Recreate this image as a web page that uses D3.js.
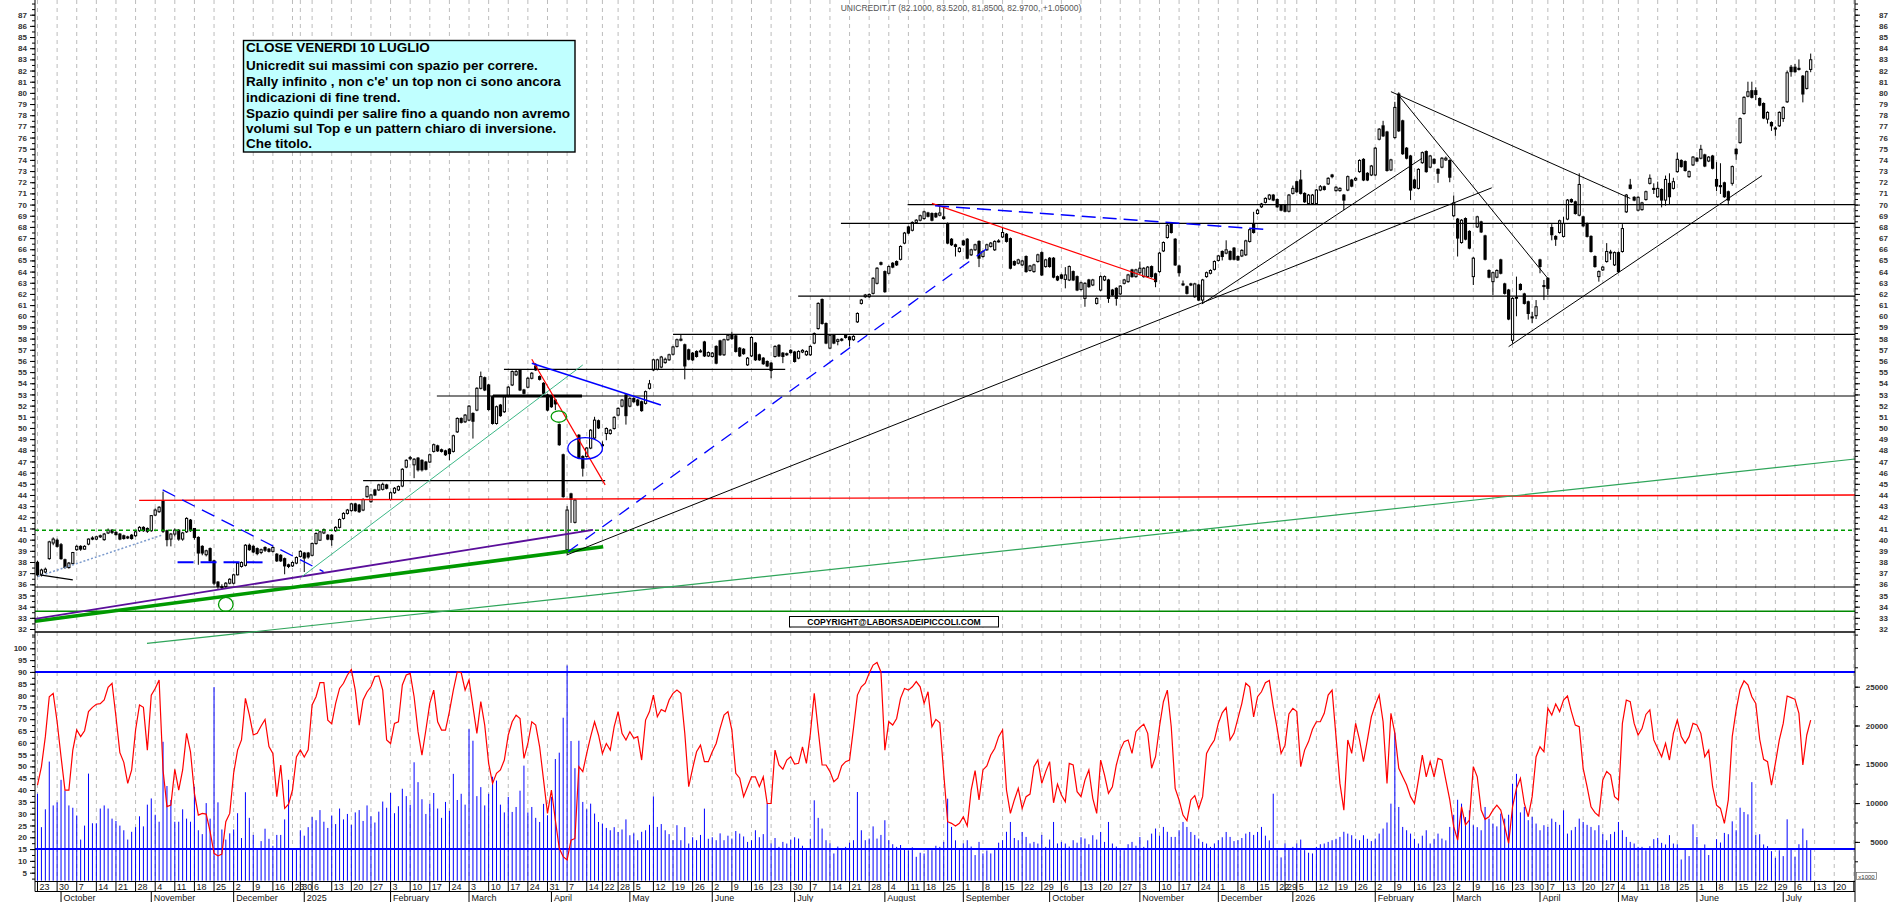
<!DOCTYPE html>
<html><head><meta charset="utf-8">
<script src="https://cdn.jsdelivr.net/npm/d3@7/dist/d3.min.js"></script>
<style>body{margin:0;background:#fff}svg{display:block}text{font-family:"Liberation Sans",Arial,sans-serif}</style>
</head><body><svg id="c" width="1890" height="902"></svg>
<script>
// ---------------- DATA ----------------
const openP = [
37.97,36.9,37.1,38.3,39.7,39.95,39.55,38.2,37.5,37.85,
39.1,39.4,39.15,39.6,40.15,40.05,40.25,40.0,40.6,40.85,
40.65,40.5,40.35,40.25,40.4,40.35,40.8,41.1,41.0,40.8,
42.2,42.5,43.45,40.8,40.05,40.5,40.85,40.05,40.7,41.75,
41.0,40.2,39.4,38.65,39.2,38.1,36.2,35.8,35.8,36.1,
36.1,36.85,37.6,37.7,39.5,39.4,39.2,38.85,39.3,39.15,
38.95,38.7,38.6,38.3,37.75,37.65,37.9,38.5,38.8,38.8,
38.6,39.65,39.95,40.6,40.4,40.4,40.8,41.1,41.9,42.35,
42.6,43.2,43.1,42.65,43.85,43.4,44.45,44.45,44.5,44.9,
43.6,44.2,44.45,44.8,46.5,47.25,46.7,47.3,47.1,46.95,
46.95,47.9,48.4,48.05,47.95,48.1,47.9,49.65,50.85,50.55,
50.7,51.3,51.6,53.55,54.5,53.85,52.8,50.4,52.05,51.45,
52.85,53.85,54.75,55.15,53.4,53.65,54.45,55.55,54.6,54.0,
52.95,52.8,52.5,50.3,47.6,39.1,44.1,41.55,49.35,47.45,
47.45,48.2,49.1,50.65,48.5,49.5,49.5,49.95,51.15,51.95,
52.95,51.95,52.65,52.5,52.35,52.2,53.55,55.2,55.25,55.45,
55.85,56.1,56.6,57.3,57.85,57.45,57.0,56.7,56.85,56.85,
57.7,56.45,56.4,57.3,57.8,56.55,57.9,58.3,58.25,57.15,
57.05,55.65,56.45,57.6,56.55,56.25,55.95,55.8,56.4,57.4,
56.7,56.65,56.95,56.8,56.25,56.8,56.55,56.55,57.6,58.9,
61.5,59.35,57.15,58.3,57.75,57.95,58.3,58.15,57.9,59.5,
61.15,61.75,61.75,62.05,62.95,64.8,64.0,63.85,64.75,64.9,
65.1,66.55,68.0,67.7,68.4,68.6,68.75,69.25,69.2,69.2,
69.05,68.9,68.3,66.9,66.4,65.8,66.75,66.9,65.5,65.95,
66.7,65.35,65.95,66.25,65.95,66.7,67.1,67.35,66.95,64.9,
64.75,64.6,65.35,64.1,64.0,64.9,65.7,64.45,65.2,65.2,
63.55,63.7,63.3,63.25,64.0,63.55,62.4,61.6,63.25,62.8,
61.15,62.35,63.25,63.25,62.35,62.5,62.0,62.95,63.1,64.15,
63.55,63.9,63.55,63.55,64.45,63.8,64.0,65.85,67.05,68.25,
66.9,64.5,62.9,62.65,62.9,61.75,62.8,61.45,63.55,63.85,
64.2,65.0,65.8,65.65,65.8,66.1,65.35,65.4,65.5,66.7,
68.25,69.2,69.8,70.2,70.5,70.85,70.45,69.95,69.95,69.4,
71.0,72.05,72.2,71.0,70.1,70.1,70.1,71.3,71.6,71.85,
72.65,71.25,71.25,70.85,71.3,72.2,72.2,72.95,74.05,72.8,
72.65,72.65,75.85,77.05,76.5,73.1,76.0,79.9,77.5,75.05,
74.35,72.2,71.45,73.75,74.75,73.35,74.05,73.15,73.35,74.0,
73.95,69.0,68.7,66.6,68.75,67.6,63.55,68.0,68.45,67.2,
64.1,63.1,63.5,65.05,62.9,62.35,57.85,61.7,62.85,62.0,
61.3,59.95,60.05,65.05,62.75,63.4,67.95,67.15,67.5,67.15,
68.7,70.45,70.25,69.05,68.9,68.3,67.15,65.35,63.55,64.15,
64.9,65.7,64.6,65.7,65.8,69.35,71.75,70.65,69.5,69.55,
70.45,71.9,71.45,70.7,71.35,70.4,71.9,71.45,72.95,73.95,
73.85,72.5,73.55,74.15,74.15,74.45,73.9,74.35,72.25,71.7,
71.95,71.15,71.9,74.95,75.55,78.15,79.7,80.2,80.2,79.5,
79.05,77.65,77.35,76.85,77.05,77.7,79.2,82.3,82.3,82.2,
81.5,80.4,82.1];
const highP = [
38.1,37.4,37.5,39.9,40.2,40.1,39.7,38.3,38.0,38.9,
39.5,39.5,39.5,40.1,40.3,40.35,40.45,40.6,41.0,40.95,
40.75,40.6,40.45,40.35,40.5,40.8,41.2,41.2,41.1,42.2,
42.8,43.0,44.3,40.9,40.6,41.0,40.95,40.7,42.0,41.85,
41.0,40.3,39.5,39.1,39.3,38.2,36.3,36.0,36.2,36.55,
36.95,38.0,38.05,39.6,39.65,39.5,39.3,39.2,39.4,39.25,
39.4,38.8,38.7,38.4,37.85,38.05,38.5,39.05,38.9,38.9,
39.75,40.65,40.8,41.0,40.5,40.5,41.2,41.9,42.45,42.75,
43.3,43.3,43.2,43.7,44.85,44.1,44.55,45.0,45.1,45.0,
44.3,44.7,44.85,46.4,47.2,47.5,47.3,47.4,47.2,47.05,
47.7,48.6,48.5,48.15,48.05,48.2,49.4,50.95,50.95,51.25,
52.05,51.4,53.65,55.05,54.6,53.95,52.9,52.0,52.15,52.9,
53.75,55.15,55.2,55.25,53.5,54.55,55.0,55.8,54.7,54.1,
53.05,52.9,52.6,50.4,47.7,43.0,44.2,43.65,49.45,47.55,
48.3,49.9,51.0,50.75,48.8,50.05,49.9,51.05,51.85,52.6,
53.05,52.75,52.75,52.6,52.45,53.35,54.3,56.2,56.2,56.45,
56.3,56.65,57.35,58.0,58.4,57.55,57.1,56.8,56.95,57.05,
57.8,56.85,56.8,57.4,57.9,58.0,58.4,58.6,58.35,57.25,
57.15,56.35,58.2,57.7,56.65,56.35,56.05,55.9,57.4,57.5,
56.8,56.75,57.05,56.9,56.95,57.05,56.95,57.4,58.55,61.25,
61.6,59.45,58.4,58.4,58.0,58.05,58.4,58.25,58.3,60.35,
61.55,62.0,62.05,63.5,64.4,64.9,64.1,64.55,64.85,65.0,
66.35,67.55,68.1,68.5,68.7,69.1,69.45,69.35,69.3,69.3,
69.9,69.8,68.4,67.0,66.5,66.2,66.85,67.0,66.05,66.5,
66.8,65.9,66.5,66.65,66.8,66.9,67.9,67.45,67.05,65.0,
65.15,65.05,65.45,64.6,64.7,65.6,65.8,65.15,65.3,65.3,
63.65,63.8,64.4,64.55,64.1,63.65,63.1,63.05,63.35,63.35,
61.7,63.65,63.65,63.35,62.45,62.6,62.8,63.35,63.8,64.25,
64.25,64.9,64.4,64.5,64.55,63.9,65.75,66.7,68.25,68.35,
67.0,64.6,63.2,62.75,63.0,63.0,62.9,63.35,64.0,64.2,
65.0,65.5,65.9,66.8,65.9,66.2,65.45,66.0,66.85,67.85,
69.35,69.6,70.15,70.65,70.95,70.95,70.55,70.05,70.05,70.95,
71.7,72.15,73.1,71.1,70.95,70.95,71.4,71.75,71.7,72.45,
72.75,71.65,71.55,70.95,72.6,72.3,72.45,74.05,74.15,72.9,
73.55,75.15,76.85,77.5,76.6,74.1,79.2,80.05,77.6,75.15,
74.45,72.3,73.25,74.75,74.85,74.45,74.15,73.25,74.25,74.3,
74.05,70.8,68.8,68.7,68.85,67.7,65.3,69.0,68.55,67.3,
64.2,64.0,64.2,65.15,63.0,62.45,61.7,63.55,62.95,62.1,
61.4,60.4,61.45,65.15,63.25,63.5,68.25,67.25,68.65,68.9,
70.5,70.55,70.35,72.8,69.0,68.4,67.25,65.45,64.1,64.5,
66.55,65.95,65.8,65.8,68.25,70.95,72.3,70.75,70.75,70.25,
71.25,72.7,71.9,72.05,71.45,72.6,72.8,72.4,74.65,74.05,
73.95,73.05,74.35,74.25,75.35,74.55,74.35,74.45,73.8,73.7,
72.05,71.25,73.5,75.05,77.8,79.7,81.0,81.0,80.5,79.6,
79.15,78.35,77.45,77.0,78.35,78.8,82.0,82.5,82.6,83.0,
81.6,82.0,83.52];
const lowP = [
36.7,36.7,37.0,38.2,39.5,39.3,38.2,37.4,37.4,37.8,
39.0,39.0,39.1,39.5,39.95,39.95,40.15,39.9,40.5,40.5,
40.35,39.95,40.0,40.05,40.0,40.25,40.7,40.7,40.6,40.7,
42.1,42.4,40.6,39.4,39.4,40.3,39.9,39.9,40.6,40.7,
40.0,37.75,38.6,38.5,38.0,35.95,35.6,35.55,35.65,36.0,
36.0,36.8,37.5,37.6,39.0,38.8,38.6,38.7,38.9,38.85,
38.85,38.0,38.0,36.9,37.45,37.55,37.8,38.4,37.1,38.3,
38.5,39.55,39.9,40.5,39.95,39.45,40.7,41.0,41.8,42.25,
42.5,42.5,42.4,42.55,43.75,43.3,43.9,44.35,44.4,44.5,
43.5,44.1,44.35,44.7,46.4,47.1,45.5,46.1,46.1,46.2,
46.85,47.8,47.85,47.8,47.5,47.1,47.8,49.55,50.4,50.45,
50.6,49.05,51.5,53.45,53.3,51.55,50.3,50.3,51.0,51.35,
52.75,53.75,54.65,53.3,53.0,53.55,54.35,55.1,54.25,53.0,
51.5,51.8,51.6,48.4,43.75,38.7,41.5,41.45,47.2,45.65,
47.35,48.1,49.0,49.9,48.2,48.9,49.4,49.85,51.05,51.85,
50.3,51.85,52.25,51.95,51.45,52.1,53.45,55.1,55.15,55.35,
55.75,56.0,56.5,57.2,57.75,54.35,56.05,56.0,56.3,56.75,
56.35,56.35,56.3,55.7,56.45,56.45,57.8,57.9,56.75,56.35,
56.55,55.55,56.35,56.0,56.0,55.65,55.45,54.45,56.3,56.35,
55.8,56.45,56.65,55.85,56.15,56.7,56.45,56.45,57.5,58.8,
59.25,57.5,57.05,57.5,57.4,57.75,58.0,57.3,57.8,59.4,
61.05,61.65,61.65,61.95,62.85,64.55,62.1,63.75,64.3,64.5,
65.0,66.45,67.35,67.6,68.3,68.5,68.65,68.85,68.5,68.8,
68.95,68.65,66.45,66.3,65.35,65.7,66.3,65.1,65.4,65.85,
64.4,65.25,65.85,66.15,65.85,66.6,67.0,66.6,64.2,64.5,
64.65,64.5,63.9,64.0,63.9,64.8,63.6,64.35,64.35,63.4,
63.15,63.3,62.5,63.15,63.15,62.25,62.3,60.85,62.55,62.7,
61.05,62.25,63.15,61.2,61.8,60.95,61.9,62.85,63.0,63.45,
63.45,63.8,63.45,63.45,63.45,62.6,63.9,65.75,66.95,67.4,
64.5,63.55,62.7,61.95,62.7,61.65,61.35,61.15,63.45,63.75,
64.1,64.9,65.0,65.55,65.0,65.0,64.95,65.3,65.4,66.6,
67.4,69.1,69.7,70.1,70.4,70.3,69.7,69.4,69.3,69.3,
70.9,71.05,70.9,70.15,70.0,70.0,70.0,71.2,71.25,71.75,
72.35,71.15,71.15,69.5,71.2,71.55,72.1,72.85,72.1,72.1,
72.55,72.55,75.75,76.05,72.95,73.0,75.9,76.5,74.45,74.05,
70.4,71.4,71.35,73.65,72.85,73.25,73.6,71.95,73.25,73.9,
72.0,68.9,65.35,66.5,66.8,66.0,62.8,67.9,67.45,65.0,
63.4,61.9,63.4,63.75,61.95,59.65,57.55,60.0,62.3,61.05,
59.7,59.4,59.75,63.85,61.45,61.9,66.8,66.3,67.4,67.05,
68.6,70.15,69.1,68.95,68.0,67.05,65.7,64.35,63.1,64.05,
64.8,65.05,64.5,63.9,65.7,69.25,71.35,70.3,69.4,69.45,
70.35,71.8,70.95,70.6,69.75,69.9,70.0,71.35,72.85,73.3,
72.95,72.4,73.45,73.8,74.05,73.35,73.8,73.15,71.2,70.95,
70.6,69.95,71.7,74.0,75.45,78.05,79.6,79.5,79.35,78.8,
77.65,77.25,76.6,76.15,76.95,77.4,79.1,81.45,81.8,82.0,
79.15,80.3,81.85];
const closeP = [
36.84,37.28,37.35,39.8,40.05,39.4,38.3,37.5,37.9,38.85,
39.4,39.15,39.4,40.05,40.05,40.25,40.35,40.5,40.85,40.65,
40.45,40.05,40.1,40.15,40.1,40.7,41.1,40.8,40.75,42.15,
42.65,42.9,40.75,40.0,40.5,40.85,40.05,40.6,41.9,40.8,
40.2,38.8,38.8,39.0,38.1,36.1,35.8,35.7,36.1,36.45,
36.85,37.9,37.95,39.5,39.1,38.9,38.75,39.1,39.05,38.95,
39.3,38.1,38.1,37.65,37.6,37.95,38.4,38.95,38.35,38.45,
39.65,40.55,40.7,40.9,40.05,40.0,41.1,41.8,42.35,42.65,
43.2,42.6,42.5,43.6,44.75,44.0,44.0,44.9,44.95,44.6,
44.2,44.6,44.75,46.3,47.1,47.35,47.2,46.25,46.25,46.3,
47.6,48.5,47.95,47.9,47.6,47.7,49.3,50.85,50.5,51.15,
51.95,50.6,53.55,54.6,53.4,51.65,50.4,51.9,51.1,52.8,
53.65,55.05,55.05,53.4,53.1,54.45,54.9,55.2,54.35,53.1,
51.6,51.9,52.15,48.5,43.85,42.65,43.6,43.55,47.3,46.4,
48.2,49.8,50.7,50.0,48.45,49.95,49.8,50.95,51.75,52.5,
51.1,52.65,52.35,52.05,51.55,53.25,53.95,56.1,56.1,56.35,
56.15,56.55,57.25,57.9,57.95,55.55,56.15,56.1,56.4,56.9,
56.45,56.75,56.7,55.8,56.55,57.9,58.3,58.0,56.85,56.45,
56.65,56.25,58.1,56.1,56.1,55.75,55.55,55.15,57.3,56.45,
56.4,56.55,56.75,55.95,56.85,56.95,56.85,57.3,58.45,61.15,
59.35,57.6,58.3,57.6,57.9,57.85,58.1,57.9,58.2,60.25,
61.45,61.9,61.95,63.4,64.3,64.65,62.2,64.45,64.4,64.6,
66.25,67.45,67.45,68.4,68.6,69.0,69.35,68.95,68.6,68.9,
69.25,68.75,66.55,66.4,66.25,66.1,66.4,65.2,65.95,66.4,
65.2,65.8,66.4,66.55,66.7,66.75,67.5,66.7,64.3,64.6,
65.05,64.95,64.0,64.5,64.6,65.5,63.7,65.05,64.45,63.5,
63.25,63.4,63.7,64.45,63.25,62.35,63.0,62.95,62.65,63.25,
61.6,63.55,63.55,61.6,61.9,61.6,62.7,63.25,63.7,63.55,
64.15,64.3,64.3,64.4,63.55,63.1,65.65,66.6,68.15,67.5,
64.6,63.9,62.85,62.05,62.8,62.9,61.45,63.25,63.9,64.1,
64.9,65.4,65.35,65.95,65.1,65.1,65.05,65.9,66.75,67.75,
67.5,69.5,70.05,70.55,70.85,70.4,69.8,69.5,69.4,70.85,
71.45,71.15,71.0,70.25,70.85,70.85,71.3,71.6,71.35,72.35,
72.5,71.55,71.45,70.4,72.5,71.65,72.35,73.95,72.2,72.2,
73.45,75.05,76.75,76.15,73.05,74.0,78.7,76.6,74.55,74.15,
71.3,71.5,73.15,74.65,72.95,74.35,73.7,72.8,74.15,74.15,
72.45,70.15,67.0,68.6,66.9,66.1,65.2,68.9,67.55,65.1,
63.5,63.9,64.1,63.85,62.05,59.75,61.6,61.65,62.4,61.15,
60.25,59.85,60.85,64.45,62.7,62.5,67.3,66.9,68.55,68.3,
70.4,70.25,69.2,71.8,68.1,67.15,65.8,64.45,64.0,64.4,
65.8,65.75,65.7,64.0,67.85,70.85,71.45,70.4,70.65,70.15,
71.15,72.35,71.35,71.45,70.4,72.25,70.7,72.05,74.05,73.4,
73.05,72.95,74.25,73.9,74.95,73.45,74.25,73.25,71.65,71.6,
70.7,70.4,73.4,74.55,77.7,79.6,80.1,79.6,79.85,78.9,
77.75,78.25,77.05,76.8,78.25,78.7,81.8,81.9,81.9,82.1,
79.9,81.9,82.97];
const rsi = [
42.1,49.9,62.6,79.5,80.9,68.9,54.1,40,40,56.9,
65.4,62.6,65.1,73.2,75,76.3,76.6,78.1,83.5,85.2,
71,55.8,51.7,42.8,48.5,65.4,76,75,56.9,80.2,
83,86.6,48.5,33,33.6,48.8,40,48.5,64,56.2,
38.6,29.4,30.1,29.8,22.4,13.2,12.1,12.9,26.6,30.1,
47.1,56.9,61.2,78.8,71.8,63.3,64,67.1,69.9,58.4,
55.5,37.2,50.6,32.2,34,40,54,57,54,57,
76,79.5,85.5,85.5,69.6,68,76.7,83,85.2,88.7,
91,82.3,67.5,78.1,81.5,83.7,88,88.3,82.3,61.2,
59.7,68.2,68.9,84.5,88.7,89.4,79.5,64.7,54.8,65.4,
76.7,82.3,68.9,65.4,65.4,73.2,82.3,90,89.7,82.3,
86.6,75.3,64,77.4,67.5,51.3,42.8,47.1,48.5,52.7,
63.3,68.9,71.7,70.3,53.4,59.7,68.9,67.5,58.3,44.2,
30.1,40,27.3,15.3,11.8,10.4,18.8,19.5,49.9,47.8,
55.5,62.6,68.9,63.3,55.5,59.7,56.9,66.8,73.2,64,
61.2,64.7,61.9,62.6,52.7,69.6,73.2,80.2,71,74.1,
73.2,78.1,80.9,82.3,80.9,64,41.4,49.2,56.2,59,
52,52,56.2,59.7,66.1,71.7,73.2,65.4,47.1,45,
37.2,41.4,45.6,45.6,41.4,45.6,34.3,34.3,56.9,50.6,
48.8,52.7,54.1,51,51.3,58.3,51.3,63.7,80.9,65.4,
50.6,50.6,47.8,43.5,45,50.2,52,52.7,66.1,80.2,
83.7,85.2,89.4,92.9,94,90,56.9,68.9,67.5,70.3,
78.8,83,82.3,83.7,85.9,83.7,76.7,81.6,66.8,69.9,
68.5,47.1,26.6,25.9,24.8,25.9,28.7,24.8,40,48.2,
35.8,48.5,50.2,54.8,57.6,62.6,65.4,40,30.1,35.8,
40.7,32.2,37.2,38.3,49.9,52.7,42.8,47.8,52,34.6,
42.5,37.9,35,51.3,50.6,39.3,37.2,44.2,48.5,36.5,
30.1,52.7,46.3,38.6,41.4,50.6,56.9,60.5,61.2,55.5,
64.7,66.5,67.9,64,49.2,54.1,66.8,77.4,82.3,66.8,
40.7,35.8,29.4,27,35.8,37.6,32.2,37.2,55.5,58.6,
61.2,68.2,72.7,74.9,61.2,64,70.3,76.7,85.2,83.7,
71,79.5,81.6,85.4,86.4,75.3,66.1,55.5,59,72.2,
74.6,73.2,49.9,56.9,60.5,65.7,68.9,68.9,72.5,80.2,
82.3,62.6,42.8,31.5,61.2,55.5,68.2,61.2,52,61.2,
71,76,80.2,68.9,42.8,72.5,64,49.2,45.6,42.1,
37.2,34.3,44.2,54.8,45.6,52,45.6,53.4,52.7,44.2,
35.8,24.5,18.8,32.9,25.2,27.3,49.9,45.6,31.5,27.6,
28.7,31.5,33.6,31.5,24.5,17.4,32.9,40.7,45,34.3,
28.7,37.2,54.1,58.3,56.2,74.6,71.7,76.4,73.2,78.1,
79.8,73.2,67.5,66.8,49.2,41.4,32.9,30.4,29,44.2,
47.8,46.3,37.2,35.8,68.2,78.1,77.4,68.2,63.3,66,
72,73.9,61.2,57.6,54.1,59.8,52.7,64,69.6,62.6,
59.8,62.6,68.2,67.5,64,54.1,56.9,41.4,33.6,32.2,
25.9,35.8,62.6,73.9,82.6,86.2,84.5,79.5,76.7,61.5,
53,52,42.1,51.3,61.2,68.2,79.8,79.1,78.4,72.5,
50.6,63.3,69.6];
const volume = [
11200,6900,9200,15350,9700,10100,13000,11600,9700,9400,
8400,5300,7100,13800,7400,7400,9300,9700,9300,8000,
7700,7100,6500,5300,6300,6900,8300,7000,9800,10600,
8500,7600,17900,12200,10400,7600,7600,9200,8000,7600,
12100,6500,6000,10000,8000,24950,10100,6600,5300,6100,
6600,8700,5500,11400,8100,5900,4200,5100,6700,5400,
4500,5900,5900,7900,13000,4200,4200,6500,5800,6900,
8200,7800,9100,7600,6800,8400,7300,9300,7900,8600,
7200,8800,9100,7700,9700,8300,7500,8900,10200,9400,
11300,8700,9600,11850,10900,9800,15260,12700,10500,8600,
9900,11300,9300,8100,10150,9000,13770,10400,11200,9800,
19530,18040,10900,12060,9700,11200,13400,12900,9800,8800,
10800,8860,9500,11600,14830,8800,9500,8100,7570,9900,
8430,10800,15680,16500,21000,27740,18000,14500,18040,10150,
9200,9930,8650,7570,7360,6800,6500,6900,6280,6600,
7900,5860,6100,5220,6300,6500,7200,10870,6930,7300,
6500,6000,5220,7150,5220,6900,4790,5600,5220,5900,
9290,5400,5600,5220,6100,5220,5800,5430,6400,6070,
5700,5000,5220,6500,5600,6000,9930,4790,5500,4360,
5000,4790,5300,5600,5430,4500,3940,5400,10360,8100,
6720,5220,4800,3510,4400,4000,4360,4900,5220,11430,
6500,5220,5430,7000,5430,5900,7790,5220,4700,4360,
4600,4150,3900,4300,3080,3600,3510,4100,3940,4500,
4360,5000,10570,6930,5200,4150,4800,5220,4400,3300,
5000,3510,3900,3510,4200,4900,5220,6300,7570,5500,
5220,6280,5640,4800,5000,4790,5900,4360,5300,7570,
4800,5000,4790,4400,5220,4900,5600,5430,4700,5860,
5300,6280,5000,7570,4790,4400,4100,3940,4700,5000,
4500,5640,4360,5200,6070,6720,5800,6930,6300,5640,
5640,6500,7570,6930,6280,5900,5430,5000,4790,4360,
4800,5220,5600,6280,5640,5100,5220,5500,6070,6280,
5900,6280,6930,5800,5200,11210,3940,3000,4790,4200,
4360,4790,5300,3940,3600,3510,4360,4700,4790,5000,
5220,5400,5640,6300,6070,5860,5400,5220,5860,5400,
5100,5430,6070,6720,7500,9930,19100,9500,6930,6500,
6070,5400,4790,5800,6500,4790,5400,6070,5430,5200,
6930,8500,10430,9930,8200,9070,7150,6900,6500,9500,
8000,7360,7000,8650,8000,8500,12490,13770,8800,9500,
7800,8220,7360,6500,7150,6930,8000,7570,7200,9070,
6070,6500,6930,8000,7570,7200,6930,6500,7150,6000,
5220,6000,6300,7570,6500,5640,5000,4790,4360,4360,
3930,4450,5350,5520,4880,4670,5870,4790,4700,2730,
4150,3170,7270,5640,4150,4670,3300,4150,5350,4920,
6160,5990,7650,6500,9410,8850,8550,12700,5870,5990,
4670,4450,3810,2950,3930,3170,7910,4150,3080,4700,
6720,5220,4150];
const firstDay = "2024-09-23";
const holidays = ["2024-12-24","2024-12-25","2024-12-26","2024-12-31","2025-01-01","2025-04-18","2025-04-21","2025-05-01","2025-08-15","2025-12-24","2025-12-25","2025-12-26","2025-12-31","2026-01-01","2026-04-03","2026-04-06","2026-05-01"];
const monthNames = ["January","February","March","April","May","June","July","August","September","October","November","December"];
const priceTicks = d3.range(32, 88);
const priceMinor = d3.range(31.5, 88.01, 0.5);
const rsiTicks = d3.range(5, 101, 5);
const rsiMinor = d3.range(2.5, 106, 2.5);
const volTicks = [5000, 10000, 15000, 20000, 25000];
const volMinor = d3.range(2500, 30001, 2500);
const rsiLevels = [90, 15];
// annotations drawn by the author: [name, index1, price1, index2, price2]
const trendLines = [
 ["h70",221.8,70.0,463.3,70.0],["h68",204.8,68.32,463.3,68.32],["h618",193.9,61.8,463.3,61.8],
 ["h584",162,58.38,463.3,58.38],["h5525",118.9,55.25,190.6,55.25],["h5286",101.8,52.86,463.3,52.86],
 ["h5286b",116.1,52.86,138.8,52.86],["h4528",83,45.28,144.7,45.28],["red436",25.9,43.52,463.3,44.0],
 ["gdash",-0.64,40.84,463.3,40.84],["h3576",-0.64,35.76,463.3,35.76],["g3359",-0.64,33.59,463.3,33.59],
 ["gthick",-0.64,32.69,144.2,39.37],["purple",-0.64,32.9,141.6,40.87],["gthin",27.9,30.72,463.3,47.22],
 ["glight",67.4,36.69,139.0,55.64],["dotted",0.1,36.7,31.7,40.4],["bshort",0.6,36.84,9.0,36.4],
 ["bdashG",31.9,44.45,72.9,37.14],["bdashH",35.7,37.97,58.6,37.97],["redJ",126.0,56.15,144.7,44.9],
 ["blueK",126.0,55.79,158.9,52.06],["bdashO",135.3,38.93,243.3,66.38],["P",134.9,38.63,370.7,71.5],
 ["R",296.8,61.1,352.9,74.14],["S",345.0,80.11,406.0,70.55],["T",346.9,79.81,385.2,63.3],
 ["U",375.0,57.28,439.6,72.59],["redV",228.0,70.11,284.9,63.25],["bdashW",228.8,69.9,312.9,67.78]
];
const marks = [["gcirc",48.0,34.2],["gell",132.9,51.02],["bell",139.6,48.18]];
const titleText = "UNICREDIT.IT (82.1000, 83.5200, 81.8500, 82.9700, +1.05000)";
const noteLines = ["CLOSE VENERDI 10 LUGLIO","Unicredit sui massimi con spazio per correre.","Rally infinito , non c'e' un top non ci sono ancora","indicazioni di fine trend.","Spazio quindi per salire fino a quando non avremo","volumi sul Top e un pattern chiaro di inversione.","Che titolo."];
const copyrightText = "COPYRIGHT@LABORSADEIPICCOLI.COM";

// ---------------- STYLES ----------------
const lineStyle = {
 red436:{c:"#ff0000",w:1.4}, gdash:{c:"#009900",w:1.3,d:"4,3"}, g3359:{c:"#008800",w:1.3},
 gthick:{c:"#009900",w:3.6}, purple:{c:"#5a0e9a",w:1.8}, gthin:{c:"#2fa55a",w:1.2},
 glight:{c:"#3cb887",w:1}, dotted:{c:"#7b9acc",w:1.5,d:"2,2"}, bdashG:{c:"#0000ff",w:1.3,d:"14,8"},
 bdashH:{c:"#0000ff",w:2,d:"16,7"}, redJ:{c:"#ff0000",w:1.2}, blueK:{c:"#0000ff",w:1.5},
 bdashO:{c:"#0000ff",w:1.3,d:"12,9"}, redV:{c:"#ff0000",w:1.2}, bdashW:{c:"#0000ff",w:1.5,d:"14,7"},
 h5286b:{c:"#000",w:3}, P:{c:"#000",w:1}, R:{c:"#000",w:1}, S:{c:"#000",w:1}, T:{c:"#000",w:1}, U:{c:"#000",w:1}
};
const markStyle = {gcirc:{c:"#009900",rx:7.3,ry:7},gell:{c:"#009900",rx:7.7,ry:5.7},bell:{c:"#0000ff",rx:17.3,ry:10.7}};

// ---------------- CALENDAR ----------------
const hol = new Set(holidays);
const dates = [];
{ let d = new Date(firstDay + "T00:00:00Z");
  while (dates.length < 470) {
    const wd = d.getUTCDay(), iso = d.toISOString().slice(0,10);
    if (wd !== 0 && wd !== 6 && !hol.has(iso)) dates.push(new Date(d));
    d.setUTCDate(d.getUTCDate() + 1);
  } }
const t0 = dates[0].getTime();
const weekOf = dt => Math.floor((dt.getTime() - t0) / 86400000 / 7);
const weekStarts = [], monthStarts = [];
dates.forEach((dt, i) => {
  if (i === 0 || weekOf(dt) !== weekOf(dates[i-1])) weekStarts.push(i);
  if (i > 0 && dt.getUTCMonth() !== dates[i-1].getUTCMonth()) monthStarts.push(i);
});

// ---------------- SCALES ----------------
const X0 = 35, X1 = 1855;
const x = d3.scaleLinear().domain([0, 448]).range([37.5, 1795]);
const yP = d3.scaleLinear().domain([87, 32]).range([14.7, 629]);
const yR = d3.scaleLinear().domain([100, 5]).range([648.3, 872.7]);
const yV = d3.scaleLinear().domain([0, 25000]).range([880.7, 686.7]);
const maxIdx = x.invert(X1);

const svg = d3.select("#c");
svg.append("rect").attr("width",1890).attr("height",902).attr("fill","#fff");

// gridlines
svg.append("g").selectAll("line").data(weekStarts.filter(i => x(i) <= X1)).join("line")
  .attr("x1", i => x(i)).attr("x2", i => x(i)).attr("y1", 0).attr("y2", 881)
  .attr("stroke", "#bcbcbc").attr("stroke-width", 1).attr("stroke-dasharray", "4,4");

// panel border between price and indicator panels
svg.append("line").attr("x1",X0).attr("x2",X1).attr("y1",632).attr("y2",632).attr("stroke","#000").attr("stroke-width",1.3);

// ---------------- LOWER PANEL ----------------
svg.append("g").selectAll("line").data(volume).join("line")
  .attr("x1",(v,i)=>x(i)).attr("x2",(v,i)=>x(i)).attr("y1",yV(0)).attr("y2",v=>yV(v))
  .attr("stroke","#0000ff").attr("stroke-width",1);
svg.append("g").selectAll("line").data(rsiLevels).join("line")
  .attr("x1",X0).attr("x2",X1).attr("y1",v=>yR(v)).attr("y2",v=>yR(v))
  .attr("stroke","#0000ff").attr("stroke-width",2);
svg.append("path").datum(rsi)
  .attr("d", d3.line().x((v,i)=>x(i)).y(v=>yR(v)))
  .attr("fill","none").attr("stroke","#ff0000").attr("stroke-width",1.2);

// ---------------- CANDLES ----------------
const cg = svg.append("g");
closeP.forEach((c, i) => {
  const o = openP[i], h = highP[i], l = lowP[i], cx = x(i);
  cg.append("line").attr("x1",cx).attr("x2",cx).attr("y1",yP(h)).attr("y2",yP(l)).attr("stroke","#000").attr("stroke-width",1);
  const top = yP(Math.max(o,c)), bot = yP(Math.min(o,c));
  const hgt = Math.max(bot - top, 1);
  if (c >= o) {
    cg.append("rect").attr("x",cx-1.1).attr("y",top).attr("width",2.2).attr("height",hgt)
      .attr("fill","#fff").attr("stroke","#000").attr("stroke-width",1);
  } else {
    cg.append("rect").attr("x",cx-1.6).attr("y",top-0.5).attr("width",3.2).attr("height",hgt+1).attr("fill","#000");
  }
});

// ---------------- ANNOTATIONS ----------------
const ag = svg.append("g");
trendLines.forEach(([name, i1, p1, i2, p2]) => {
  const s = lineStyle[name] || {c:"#000", w:1.2};
  ag.append("line").attr("x1",x(i1)).attr("y1",yP(p1)).attr("x2",x(Math.min(i2,maxIdx))).attr("y2",yP(p2))
    .attr("stroke",s.c).attr("stroke-width",s.w).attr("stroke-dasharray",s.d || null);
});
marks.forEach(([name, i, p]) => {
  const s = markStyle[name];
  ag.append("ellipse").attr("cx",x(i)).attr("cy",yP(p)).attr("rx",s.rx).attr("ry",s.ry)
    .attr("fill","none").attr("stroke",s.c).attr("stroke-width",1.3);
});

// ---------------- AXES ----------------
function styleAxis(g, anchorRight) {
  g.select(".domain").remove();
  g.selectAll("line").attr("stroke","#000");
  g.selectAll("text").attr("font-size",8).attr("font-weight","bold").attr("fill","#333")
   .attr("font-family","Liberation Sans, Arial, sans-serif");
  if (anchorRight) g.selectAll("text").attr("x",33).attr("text-anchor","end");
}
const fmt = d3.format("d");
svg.append("g").attr("transform",`translate(${X0},0)`).call(d3.axisLeft(yP).tickValues(priceMinor).tickSize(3).tickFormat("")).call(styleAxis);
svg.append("g").attr("transform",`translate(${X0},0)`).call(d3.axisLeft(yP).tickValues(priceTicks).tickSize(5).tickPadding(3).tickFormat(fmt)).call(styleAxis);
svg.append("g").attr("transform",`translate(${X1},0)`).call(d3.axisRight(yP).tickValues(priceMinor).tickSize(3).tickFormat("")).call(styleAxis);
svg.append("g").attr("transform",`translate(${X1},0)`).call(d3.axisRight(yP).tickValues(priceTicks).tickSize(5).tickFormat(fmt)).call(g=>styleAxis(g,true));
svg.append("g").attr("transform",`translate(${X0},0)`).call(d3.axisLeft(yR).tickValues(rsiMinor.filter(v=>yR(v)>636&&yR(v)<881)).tickSize(3).tickFormat("")).call(styleAxis);
svg.append("g").attr("transform",`translate(${X0},0)`).call(d3.axisLeft(yR).tickValues(rsiTicks).tickSize(5).tickPadding(3).tickFormat(fmt)).call(styleAxis);
svg.append("g").attr("transform",`translate(${X1},0)`).call(d3.axisRight(yV).tickValues(volMinor.filter(v=>yV(v)>636)).tickSize(3).tickFormat("")).call(styleAxis);
svg.append("g").attr("transform",`translate(${X1},0)`).call(d3.axisRight(yV).tickValues(volTicks).tickSize(5).tickFormat(fmt)).call(g=>styleAxis(g,true));
svg.append("line").attr("x1",X0).attr("x2",X0).attr("y1",0).attr("y2",891.5).attr("stroke","#000");
svg.append("line").attr("x1",X1).attr("x2",X1).attr("y1",0).attr("y2",902).attr("stroke","#000");
// x1000 tag
svg.append("rect").attr("x",1856.5).attr("y",872.5).attr("width",20).attr("height",7).attr("fill","#fff").attr("stroke","#555").attr("stroke-width",0.6);
svg.append("text").attr("x",1866.5).attr("y",878.6).attr("text-anchor","middle").attr("font-size",6).attr("fill","#333").text("x1000");

// date axis
svg.append("clipPath").attr("id","dclip").append("rect").attr("x",X0).attr("y",870).attr("width",X1-X0).attr("height",40);
const dg = svg.append("g").attr("clip-path","url(#dclip)");
dg.append("line").attr("x1",X0).attr("x2",X1).attr("y1",881.5).attr("y2",881.5).attr("stroke","#000");
dg.append("line").attr("x1",X0).attr("x2",X1).attr("y1",891.5).attr("y2",891.5).attr("stroke","#000");
const ws = weekStarts.filter(i => x(i) <= X1 + 2);
dg.selectAll("line.wk").data(ws).join("line").attr("class","wk")
  .attr("x1",i=>x(i)).attr("x2",i=>x(i)).attr("y1",881.5).attr("y2",891.5).attr("stroke","#000");
dg.selectAll("text.wk").data(ws).join("text").attr("class","wk")
  .attr("x",i=>x(i)+2).attr("y",890).attr("font-size",9).attr("fill","#111")
  .text(i=>dates[i].getUTCDate());
const ms = monthStarts.filter(i => x(i) <= X1);
dg.selectAll("line.mo").data(ms).join("line").attr("class","mo")
  .attr("x1",i=>x(i)).attr("x2",i=>x(i)).attr("y1",891.5).attr("y2",902).attr("stroke","#000");
dg.selectAll("text.mo").data(ms).join("text").attr("class","mo")
  .attr("x",i=>x(i)+2.5).attr("y",901).attr("font-size",9).attr("fill","#111")
  .text(i=>{const m=dates[i].getUTCMonth(); return m===0 ? String(dates[i].getUTCFullYear()) : monthNames[m];});

// ---------------- TEXTS ----------------
svg.append("text").attr("x",961).attr("y",11).attr("text-anchor","middle").attr("font-size",8.5).attr("fill","#555").text(titleText);
svg.append("rect").attr("x",243.5).attr("y",40.5).attr("width",331.5).attr("height",111.5).attr("fill","#c0ffff").attr("stroke","#000").attr("stroke-width",1.4);
const baselines = [52.3,70,85.8,101.5,118,133.1,148.1];
noteLines.forEach((t,k)=>{
  svg.append("text").attr("x",246).attr("y",baselines[k]).attr("font-size",13.5).attr("font-weight","bold").attr("fill","#000").text(t);
});
svg.append("rect").attr("x",789.5).attr("y",616.5).attr("width",209).attr("height",10.5).attr("fill","#fff").attr("stroke","#000").attr("stroke-width",1);
svg.append("text").attr("x",894).attr("y",625).attr("text-anchor","middle").attr("font-size",8.6).attr("font-weight","bold").attr("fill","#000").text(copyrightText);
</script>
</body></html>
